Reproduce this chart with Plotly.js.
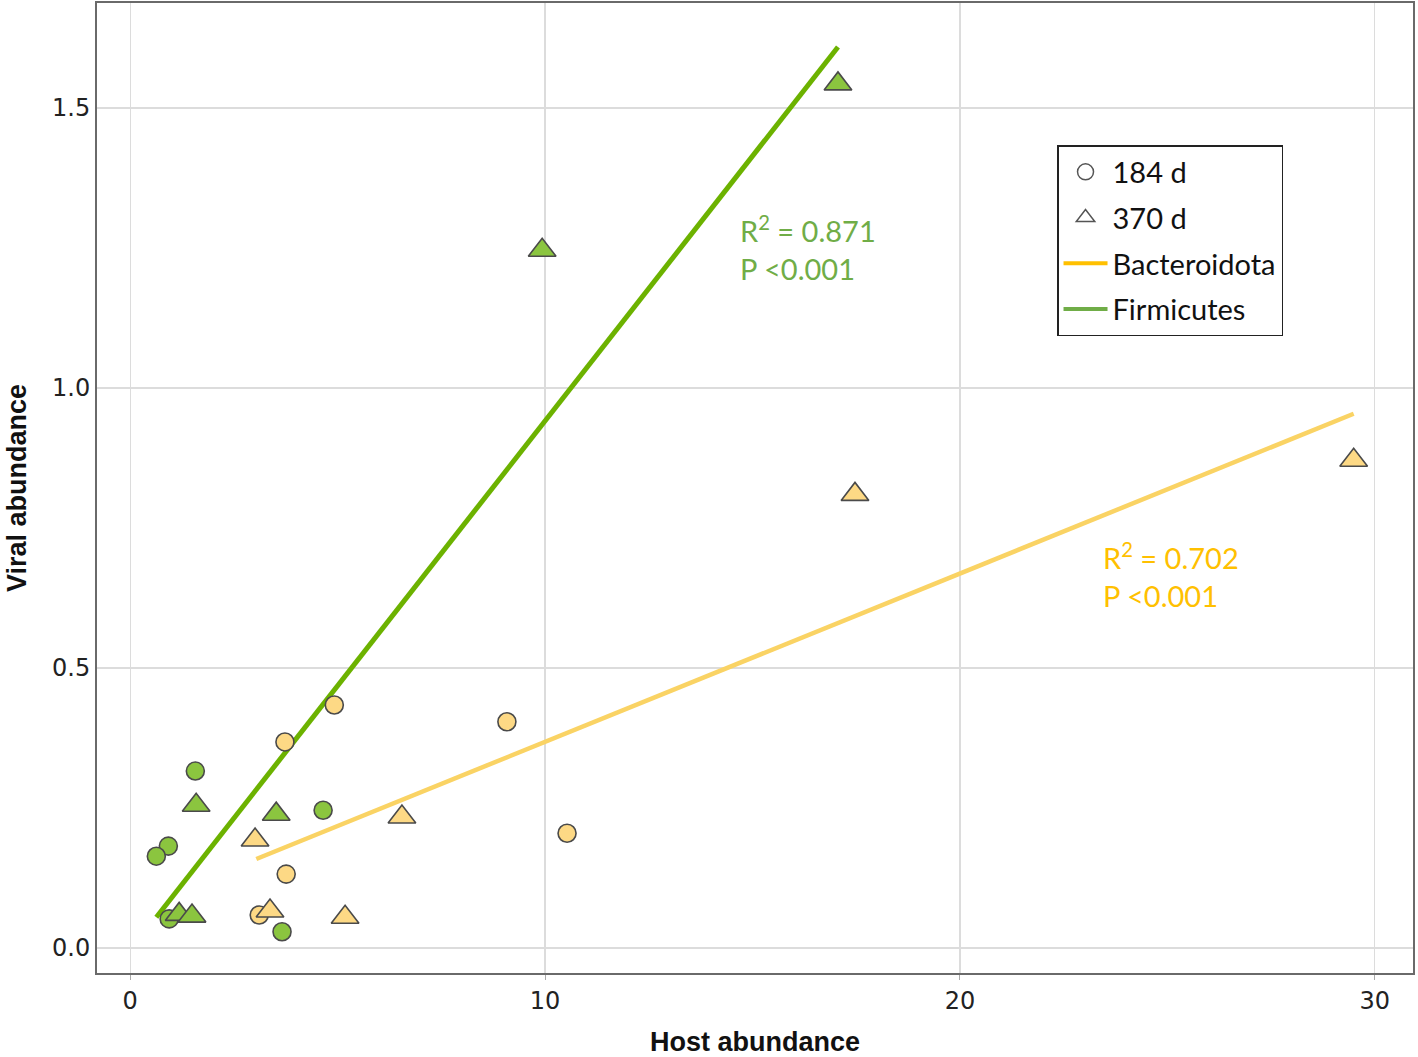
<!DOCTYPE html>
<html><head><meta charset="utf-8">
<script src="https://cdn.plot.ly/plotly-3.0.1.min.js"></script>
<style>body{margin:0;background:#fff}#c{width:1418px;height:1057px}</style>
</head><body><div id="c"></div>
<script>
// Firmicutes (green)
const firmCircX = [1.57, 0.92, 0.63, 4.65, 3.66, 0.94];
const firmCircY = [0.316, 0.182, 0.164, 0.246, 0.029, 0.052];
const firmTriX = [17.06, 9.93, 1.59, 3.52, 1.18, 1.49];
const firmTriY = [1.543, 1.246, 0.255, 0.239, 0.060, 0.057];
// Bacteroidota (yellow)
const bactCircX = [4.92, 3.73, 9.08, 10.53, 3.76, 3.11];
const bactCircY = [0.434, 0.368, 0.404, 0.205, 0.132, 0.059];
const bactTriX = [29.49, 17.47, 6.55, 3.01, 3.37, 5.18];
const bactTriY = [0.871, 0.810, 0.234, 0.193, 0.066, 0.055];
// Fitted lines
const firmFitX = [0.63, 17.06];
const firmFitY = [0.055, 1.609];
const bactFitX = [3.04, 29.49];
const bactFitY = [0.159, 0.954];
const legendLabels = ['184 d', '370 d', 'Bacteroidota', 'Firmicutes'];

const green = '#8bc53f', yellow = '#fdd985', edge = '#4a4a4a';
const greenLine = '#6cb200', yellowLine = '#fad364';
const mk = (sym, col, sz) => ({symbol: sym, color: col, size: sz, line: {color: edge, width: 1.6}});

const traces = [
  {x: firmFitX, y: firmFitY, mode: 'lines', line: {color: greenLine, width: 5}, showlegend: false},
  {x: bactFitX, y: bactFitY, mode: 'lines', line: {color: yellowLine, width: 4.5}, showlegend: false},
  {x: bactCircX, y: bactCircY, mode: 'markers', marker: mk('circle', yellow, 18), showlegend: false},
  {x: bactTriX, y: bactTriY, mode: 'markers', marker: mk('triangle-up', yellow, 24), showlegend: false},
  {x: firmCircX, y: firmCircY, mode: 'markers', marker: mk('circle', green, 18), showlegend: false},
  {x: firmTriX, y: firmTriY, mode: 'markers', marker: mk('triangle-up', green, 24), showlegend: false},
  {x: [null], y: [null], mode: 'markers', name: legendLabels[0], legendgroup: 'a', marker: {symbol: 'circle-open', color: '#555', size: 20, line: {width: 1.5}}},
  {x: [null], y: [null], mode: 'markers', name: legendLabels[1], legendgroup: 'b', marker: {symbol: 'triangle-up-open', color: '#555', size: 20, line: {width: 1.5}}},
  {x: [null], y: [null], mode: 'lines', name: legendLabels[2], legendgroup: 'c', line: {color: '#ffc000', width: 4}},
  {x: [null], y: [null], mode: 'lines', name: legendLabels[3], legendgroup: 'd', line: {color: '#70ad47', width: 4}}
];

const annFont = (c) => ({family: 'Lato, "Open Sans", sans-serif', size: 29, color: c});
const layout = {
  width: 1418, height: 1057,
  margin: {l: 97, r: 5, t: 3, b: 84},
  paper_bgcolor: '#fff', plot_bgcolor: '#fff',
  showlegend: true,
  legend: {x: 0.7295, y: 0.8536, xanchor: 'left', yanchor: 'top', bordercolor: '#222', borderwidth: 1.5,
    bgcolor: '#fff', font: {family: 'Lato, "Open Sans", sans-serif', size: 29, color: '#111'}, tracegroupgap: 5, itemwidth: 44},
  xaxis: {range: [-0.8, 30.92], tickvals: [0, 10, 20, 30], ticktext: ['0', '10', '20', '30'],
    showgrid: true, gridcolor: '#dcdcdc', gridwidth: 1.2, zeroline: false,
    showline: true, mirror: true, linecolor: '#6a6a6a', linewidth: 2,
    ticks: 'outside', ticklen: 5, tickcolor: '#aaa',
    tickfont: {family: '"DejaVu Sans", sans-serif', size: 24, color: '#222'},
    title: {text: 'Host abundance', font: {family: '"Liberation Sans Narrow", "Liberation Sans", sans-serif', size: 27, color: '#111', weight: 'bold'}, standoff: 22}},
  yaxis: {range: [-0.0446, 1.6875], tickvals: [0, 0.5, 1.0, 1.5], ticktext: ['0.0', '0.5', '1.0', '1.5'],
    showgrid: true, gridcolor: '#dcdcdc', gridwidth: 1.2, zeroline: false,
    showline: true, mirror: true, linecolor: '#6a6a6a', linewidth: 2,
    ticks: '', tickfont: {family: '"DejaVu Sans", sans-serif', size: 24, color: '#222'},
    title: {text: 'Viral abundance', font: {family: '"Liberation Sans Narrow", "Liberation Sans", sans-serif', size: 27, color: '#111', weight: 'bold'}, standoff: 18}},
  annotations: [
    {x: 14.65, y: 1.25, xanchor: 'left', yanchor: 'middle', showarrow: false, align: 'left',
      text: 'R<sup>2</sup> = 0.871<br>P <0.001', font: annFont('#70ad47')},
    {x: 23.4, y: 0.666, xanchor: 'left', yanchor: 'middle', showarrow: false, align: 'left',
      text: 'R<sup>2</sup> = 0.702<br>P <0.001', font: annFont('#ffc000')}
  ]
};
Plotly.newPlot('c', traces, layout, {displayModeBar: false, staticPlot: true});
</script></body></html>
